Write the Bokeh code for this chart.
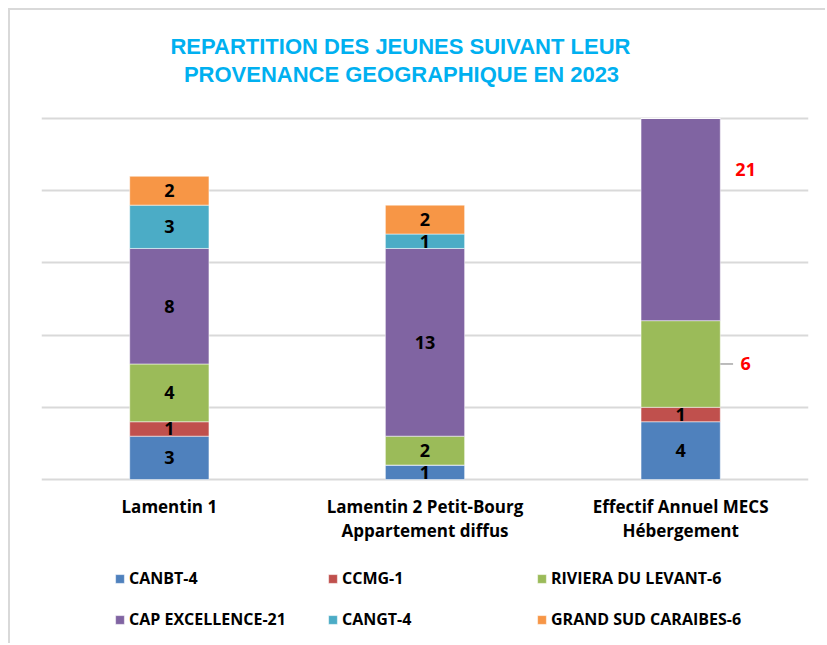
import numpy as np
from bokeh.plotting import figure
from bokeh.models import (Range1d, FixedTicker, Legend, LegendItem, Label,
                          ColumnDataSource)
from bokeh.core.properties import value
from bokeh.embed import file_html
from bokeh.resources import INLINE

# ---------------- data ----------------
categories = ["Lamentin 1",
              "Lamentin 2 Petit-Bourg\nAppartement diffus",
              "Effectif Annuel MECS\nHébergement"]
series = ["CANBT-4", "CCMG-1", "RIVIERA DU LEVANT-6",
          "CAP EXCELLENCE-21", "CANGT-4", "GRAND SUD CARAIBES-6"]
canbt = [3, 1, 4]
ccmg = [1, 0, 1]
riviera = [4, 2, 6]
cap_excellence = [8, 13, 21]
cangt = [3, 1, 0]
grand_sud = [2, 2, 0]
y_ticks = [0, 5, 10, 15, 20, 25]
y_max = 25          # value axis maximum (bars are cut there)
title_lines = ["REPARTITION DES JEUNES  SUIVANT LEUR",
               "PROVENANCE GEOGRAPHIQUE EN 2023"]

values = [canbt, ccmg, riviera, cap_excellence, cangt, grand_sud]
colors = ["#4F81BD", "#C0504D", "#9BBB59", "#8064A2", "#4BACC6", "#F79646"]
# labels drawn outside the bar in red : (series index, category index)
outside = {(2, 2), (3, 2)}

FONT = "Open Sans"
BAR_W = 0.31
PX_PER_UNIT = 361 / 25.0          # value-axis scale in pixels
xs = np.arange(len(categories)) + 0.5

# frame spans the whole canvas below the page margin; plot area 0..25 sits inside
p = figure(width=817, height=635, x_range=Range1d(0, 3),
           y_range=Range1d(-166 / PX_PER_UNIT, 469 / PX_PER_UNIT),
           output_backend="svg", toolbar_location=None,
           min_border_left=31, min_border_right=19,
           min_border_top=0, min_border_bottom=0)
p.outline_line_color = None
p.margin = (8, 0, 0, 8)
p.styles = {"border-left": "2px solid #d9d9d9", "border-top": "2px solid #d9d9d9"}
p.xaxis.visible = False
p.yaxis.visible = False
p.xgrid.visible = False
p.ygrid.ticker = FixedTicker(ticks=y_ticks)
p.ygrid.grid_line_color = "#D9D9D9"
p.ygrid.grid_line_width = 2

# stacked bars
renderers = []
cum = np.zeros(len(categories))
for name, vals, col in zip(series, values, colors):
    v = np.array(vals, dtype=float)
    bottom = np.minimum(cum, y_max)
    top = np.minimum(cum + v, y_max)
    r = p.quad(left=xs - BAR_W / 2, right=xs + BAR_W / 2, bottom=bottom, top=top,
               fill_color=col, line_color="white", line_alpha=0.5, line_width=1)
    renderers.append(r)
    cum = cum + v

# data labels
lx, ly, lt, lc, lo = [], [], [], [], []
for si, vals in enumerate(values):
    for ci, v in enumerate(vals):
        if v == 0:
            continue
        base = sum(values[k][ci] for k in range(si))
        lx.append(xs[ci])
        ly.append(base + v / 2)
        lt.append(str(v))
        if (si, ci) in outside:
            lc.append("#FF0000")
            lo.append(65)
            if base + v <= y_max:
                p.segment(x0=xs[ci] + BAR_W / 2, x1=xs[ci] + BAR_W / 2 + 0.05,
                          y0=base + v / 2, y1=base + v / 2,
                          line_color="#A6A6A6", line_width=1.5)
        else:
            lc.append("black")
            lo.append(0)
lsrc = ColumnDataSource(dict(x=lx, y=ly, t=lt, c=lc, o=lo))
p.text(x="x", y="y", text="t", source=lsrc, text_color="c", x_offset="o",
       text_align="center", text_baseline="middle",
       text_font=value(FONT), text_font_size="18px", text_font_style="bold")

# category labels under the bars
p.text(x=xs, y=[0] * len(xs), text=categories, y_offset=15,
       text_align="center", text_baseline="top", text_line_height=1.05,
       text_font=value(FONT), text_font_size="17px", text_font_style="bold",
       text_color="black")

# title
for line, cx, cy in zip(title_lines, [362, 360], [599, 571]):
    p.add_layout(Label(x=cx, y=cy, x_units="screen", y_units="screen", text=line,
                       text_align="center", text_baseline="middle",
                       text_font="Liberation Sans", text_font_style="bold",
                       text_font_size="22px", text_color="#00B0F0"))

# legend: three columns of two items
cols = [[0, 3], [1, 4], [2, 5]]
col_x = [73, 286, 495]
for idx, cx in zip(cols, col_x):
    items = [LegendItem(label=series[i], renderers=[renderers[i]]) for i in idx]
    lg = Legend(items=items, location=(cx, 15), orientation="vertical",
                glyph_width=11, glyph_height=11, label_height=20, spacing=19,
                label_standoff=4, padding=0, margin=0,
                border_line_color=None, background_fill_alpha=0,
                label_text_font=FONT, label_text_font_style="bold",
                label_text_font_size="16px", label_text_color="black")
    p.add_layout(lg, "center")

open("out.html", "w").write(file_html(p, INLINE))
